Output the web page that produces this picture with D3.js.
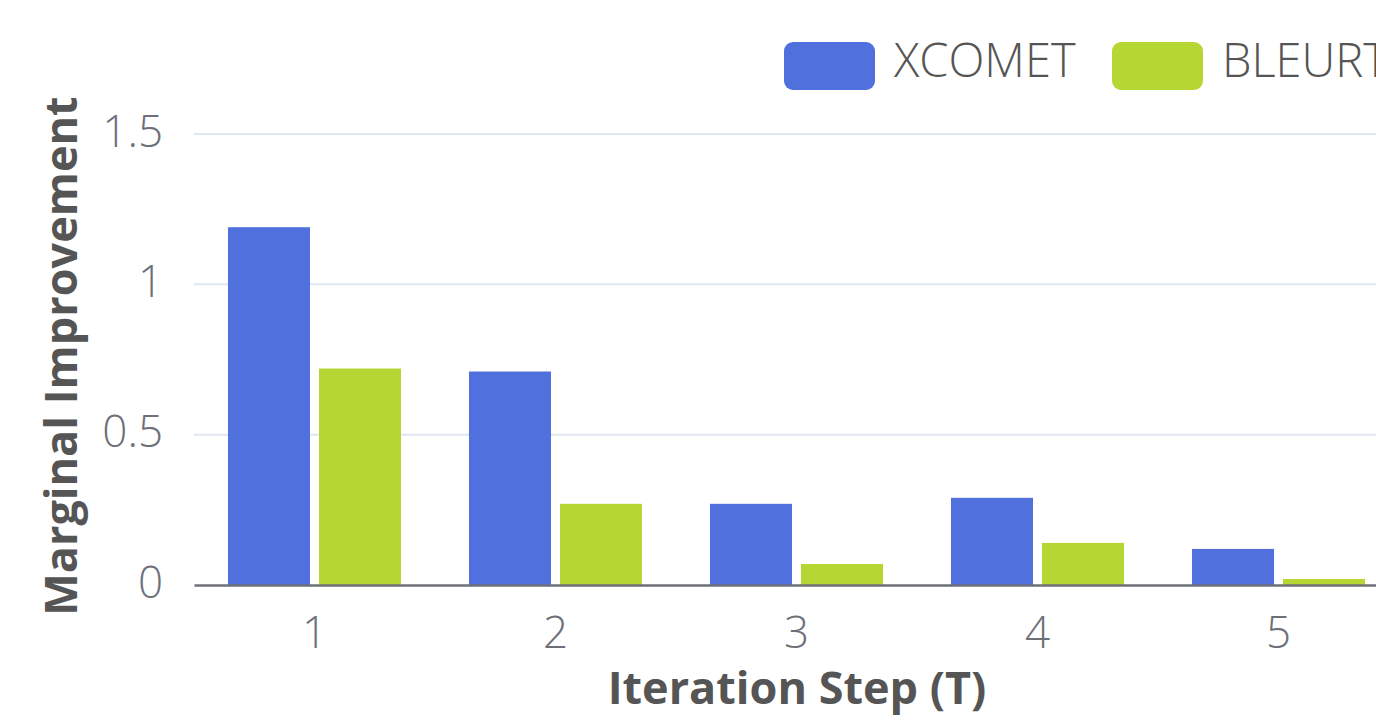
<!DOCTYPE html>
<html>
<head>
<meta charset="utf-8">
<script src="https://cdn.jsdelivr.net/npm/d3@7"></script>
<style>
  html, body { margin: 0; padding: 0; background: #fff; overflow: hidden; }
  #chart { width: 1376px; height: 722px; }
  text { font-family: "Open Sans", "Noto Sans", sans-serif; }
</style>
</head>
<body>
<div id="chart"></div>
<script>
// Marginal improvement per iteration step
const steps = ["1", "2", "3", "4", "5"];
const seriesNames = ["XCOMET", "BLEURT"];
const xcometValues = [1.19, 0.71, 0.27, 0.29, 0.12];
const bleurtValues = [0.72, 0.27, 0.07, 0.14, 0.02];
const yTicks = [0, 0.5, 1, 1.5];
const colors = ["#5070dd", "#b6d634"];

const width = 1376, height = 722;
// plot area runs past the right edge, the reference is clipped there
const plot = {left: 194, right: 1399, top: 134, bottom: 585};

const svg = d3.select("#chart")
  .append("svg")
  .attr("width", width)
  .attr("height", height);

const xScale = d3.scaleBand()
  .domain(steps)
  .range([plot.left, plot.right])
  .paddingInner(0)
  .paddingOuter(0);

const step = xScale.step();
const innerScale = d3.scaleBand()
  .domain(seriesNames)
  .range([step * 0.141, step * 0.859])
  .paddingInner(0.099)
  .paddingOuter(0);

const yScale = d3.scaleLinear()
  .domain([0, 1.5])
  .range([plot.bottom, plot.top]);

// gridlines
svg.append("g")
  .selectAll("line")
  .data(yTicks.filter(d => d > 0))
  .enter()
  .append("line")
  .attr("x1", plot.left)
  .attr("x2", plot.right)
  .attr("y1", d => yScale(d))
  .attr("y2", d => yScale(d))
  .style("stroke", "#e0e6f1")
  .style("stroke-width", 2);

// y tick labels
const yAxis = svg.append("g")
  .attr("transform", `translate(${plot.left},0)`)
  .call(d3.axisLeft(yScale).tickValues(yTicks).tickSize(0).tickPadding(31).tickFormat(d => String(d)));
yAxis.select(".domain").remove();
yAxis.selectAll("text")
  .attr("dy", "0.28em")
  .style("font-size", "44px")
  .style("font-weight", 300)
  .style("fill", "#6e7079")
  .style("font-family", "'Open Sans', sans-serif");

// bars
const seriesData = [xcometValues, bleurtValues];
seriesData.forEach((values, si) => {
  svg.append("g")
    .selectAll("rect")
    .data(values)
    .enter()
    .append("rect")
    .attr("x", (d, i) => xScale(steps[i]) + innerScale(seriesNames[si]))
    .attr("y", d => yScale(d))
    .attr("width", innerScale.bandwidth())
    .attr("height", d => yScale(0) - yScale(d))
    .style("fill", colors[si]);
});

// x axis
const xAxis = svg.append("g")
  .attr("transform", `translate(0,${plot.bottom})`)
  .call(d3.axisBottom(xScale).tickSize(0).tickPadding(32));
xAxis.select(".domain")
  .style("stroke", "#6e7079")
  .style("stroke-width", 2.5);
xAxis.selectAll("text")
  .style("font-size", "44px")
  .style("font-weight", 300)
  .style("fill", "#6e7079")
  .style("font-family", "'Open Sans', sans-serif");

// axis titles
svg.append("text")
  .attr("x", 797)
  .attr("y", 704)
  .attr("text-anchor", "middle")
  .style("font-size", "45px")
  .style("font-weight", 700)
  .style("fill", "#555")
  .text("Iteration Step (T)");

svg.append("text")
  .attr("transform", "translate(77, 356) rotate(-90)")
  .attr("text-anchor", "middle")
  .style("font-size", "45px")
  .style("font-weight", 700)
  .style("fill", "#555")
  .text("Marginal Improvement");

// legend
const legend = svg.append("g").attr("class", "legend");
const legendX = [784, 1112];
seriesNames.forEach((name, i) => {
  const row = legend.append("g").attr("transform", `translate(${legendX[i]}, 42)`);
  row.append("rect")
    .attr("width", 91)
    .attr("height", 48)
    .attr("rx", 9)
    .style("fill", colors[i]);
  row.append("text")
    .attr("x", 110)
    .attr("y", 35)
    .style("font-size", "47px")
    .style("font-weight", 300)
    .style("fill", "#555")
    .text(name);
});
</script>
</body>
</html>
